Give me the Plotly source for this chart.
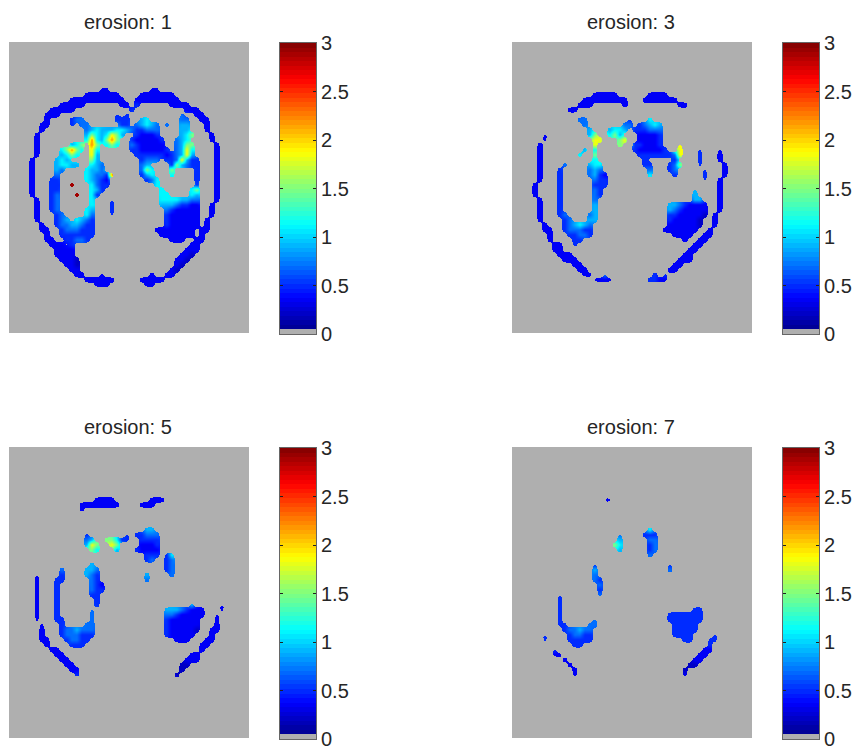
import numpy as np
import plotly.graph_objects as go

TITLES = ["erosion: 1", "erosion: 3", "erosion: 5", "erosion: 7"]
TICK_VALUES = [0, 0.5, 1, 1.5, 2, 2.5, 3]
TICK_LABELS = ["0", "0.5", "1", "1.5", "2", "2.5", "3"]
# cell codes: digit = full cell, letter = narrow cell of the same level
LEVELS = {"1": 0.2, "2": 0.35, "3": 0.5, "4": 0.7, "5": 0.9, "6": 1.1, "7": 1.5, "8": 1.85, "9": 2.2,
          "a": 0.2, "b": 0.35, "c": 0.5, "d": 0.7, "e": 0.9, "f": 1.1, "g": 1.5, "h": 1.85, "i": 2.2, "z": 2.9}
B = "........"
ROWS_1 = [B]*9 + [
"........ ........ ..bb.... ....bb..",
"........ .......2 222222.. ..222222 2.......",
"........ ....2222 2222222. .2222222 22......",
"........ ..22222. ......22 .3...... 2222....",
"........ 22222... ........ 3....... ...222..",
".......2 22...... .....c.c ........ ..d..22.",
".......2 ....344. .....333 ..56.... ..44..22",
"......22 ....c.44 ......33 .45654.4 ..55...2",
"......2. .......4 56555665 433444.. ..55...2",
".....2.. .......5 7656875. .32223.. ..567... 2.......",
".....2.. .......6 965797.. 3222223. .456.... 2.......",
".....2.. ....567. 97.676.. 4322222. .4577... .2......",
".....2.. ..6797f. 86...... 33222223 .4586... .2......",
".....2.. ..5676.. 85...... .3333332 34585... .2......",
"....2... .565.... 75...... ..3444.3 348533.. .2......",
"....2... .56655.. 654..... ..45.... 375433.. .2......",
"....2... .54....6 554..... ..476... 7....3.. .2......",
"....2... .4.....6 5443i... ..356... 6....3.. .2......",
"....2... 33.....6 5432.... ...346.. .....3.. .2......",
"....2... 33..z... 6433.... .....6.. .....c.. .2......",
"....2... 33...... 653..... ......6. ....67.. .2......",
"....2... 34...z.. 63...... ......66 ....65.. .2......",
".....2.. 34...... 6...c... ......66 665544.. .2......",
".....2.. 34...... 6...c... ......55 543322.. 2.......",
".....2.. 34.....6 5...c... .......4 322222.. 2.......",
".....2.. .34....6 4...c... .......3 222222.. 2.......",
".....2.. .345.654 3....... .......3 222222.2",
"......2. .3445543 3....... .......3 222222.2",
"......22 ..344433 3....... .....222 22222.22",
".......2 ..333333 3....... ......22 22222.2.",
".......2 2..33443 ........ ........ 222..22.",
"........ 222.3... ........ ........ ....22..",
"........ .2222... ........ ........ ...222..",
"........ .2222... ........ ........ ..221...",
"........ ..2221.. ........ ........ .221....",
"........ ...221.. ........ ........ .21.....",
"........ ....22.. ........ ........ 21......",
"........ .....22. ..b....c ....2..2 2.......",
"........ .......2 22222... c.22222.",
"........ ........ .bbb.... ...bb...",
]
ROWS_3 = [B]*10 + [
"........ ........ 22222... ...2222.",
"........ ......22 2222222. ..222222 2.......",
"........ .....222 ......2. .c...... .22.....",
"........ ...22... .......c ........ ...b....",
B,
"........ .....44. .......c ...6....",
"........ ......4. ......44 .34565.. ..d.....",
".......b .......5 ...5665. 333444..",
"......b. .......5 7..675.. .22223..",
"......b. ........ 88...78. .22223..",
".....2.. ........ h....7.. 332223.. .h..b...",
".....2.. ......5. f....... 3222223. .8...c.. .b......",
".....2.. ..e..6.. g....... .3333333 48...c.. .2......",
".....2.. ........ 6....... ..3...., 3....c.. .2......",
".....2.. ..4....5 66...... ..33...3 47...c.. ..2.....",
".....2.. .3.....4 54...... ...4...3 4.....c. ..2.....",
".....2.. .3.....4 532..... ...6.... 3.....c. ..2.....",
".....2.. .3...... 433..... ........ ......c. .2......",
"....2... .3...... 333..... ........ ........ .2......",
"....2... .3...... 43...... ........ ....e... .2......",
"....2... .3...... 43...... ........ ....5... .2......",
".....2.. .3...... 4....... ........ ....55.. .2......",
".....2.. .3...... 5....... .......5 5432222. .2......",
".....2.. .3...... 5....... .......5 4322222. .2......",
".....2.. .34....4 5....... .......3 3222221. 2.......",
".....2.. ..34...5 5....... .......3 222221.. 2.......",
"......2. ..345654 ........ .......2 222221.. 2.......",
"......22 ..344433 ........ ......22 22222..2",
".......2 ...33443 ........ ........ 2222..22",
".......2 ....33.. ........ ........ ..2..22.",
"........ 22..c... ........ ........ ....22..",
"........ 22...... ........ ........ ...22...",
"........ .222.... ........ ........ ..22....",
"........ ..222... ........ ........ .222....",
"........ ....22.. ........ ........ 22......",
"........ .....22. ........ .......2 2.......",
"........ ......bb ..d..... ....3.c.",
"........ ........ bbbb.... ...3cbb.",
]
ROWS_5 = [B]*10 + [
"........ ........ .2222... ....222.",
"........ ......22 222222.. ..222... c.......",
"........ ......b.",
"........ .....c..",
B, B,
"........ ......c. ........ ...55...",
"........ .......c .......c .33444..",
"........ .......4 5..776cc ..3333..",
"........ .......5 87..87.. ..2223..",
"........ ........ 76...5.. .32222..",
"........ ........ ........ ...333.c f.......",
"........ ........ ........ ...34..3 4....b..",
"........ ........ 5....... .......3 4.......",
"........ ..4....5 54...... .......3 4.......",
".....b.. ..3....5 43...... ...5.... 4.......",
".....b.. .33..... 43...... ...4....",
".....b.. .3...... 432.....",
".....b.. .3...... 433.....",
".....b.. .3...... 33......",
".....b.. .3...... .3......",
".....b.. .3...... .3...... ........ ....e... ..b.....",
".....b.. .3...... d....... .......5 5543222. ..b.....",
".....b.. .3...... d....... .......4 4322222. .b......",
".....b.. .33..... d....... .......3 222222.. .b......",
"......b. ..3....4 4....... .......3 222222.. .2......",
"......2. ..344544 4....... .......3 222221.. 22......",
"......2. ..344433 3....... .......3 22222... 2.......",
"......22 ...34433 ........ ........ .222...2 2.......",
".......2 ....333. ........ ........ ......22",
"........ 22...... ........ ........ ......2.",
"........ .22..... ........ ........ ....22..",
"........ ..22.... ........ ........ ...222..",
"........ ...22... ........ ........ ..11....",
"........ ....22.. ........ ........ ..1.....",
"........ .....c.. ........ ........ .1......",
"........ ......b. ........ ........ c.......",
"........ ........ ...b.... ....c...",
]
ROWS_7 = [B]*10 + [
"........ ........ ..bb....",
B, B, B, B, B,
"........ ........ ........ ...6....",
"........ ........ .....d.. ..333...",
"........ .......c .....5.. ...44...",
"........ ........ .g..76.. ...34...",
"........ ........ .....5.. ...34...",
"........ ........ ........ ...4....",
B,
"........ ........ c....... .......c",
"........ ........ 5....... .......4",
"........ ..c..... 4.......",
"........ .c...... 43......",
"........ ........ .4......",
"........ ........ .3......",
"........ .c...... .d......",
"........ .c......",
"........ .c......",
"........ .c...... ........ ........ ....33..",
"........ .c...... ........ .......3 333333..",
"........ .c...... d....... .......3 333333..",
"........ .cc....d 4....... ........ 33333...",
"........ ..344544 ........ ........ 33333...",
"......c. ...34433 ........ ........ 3333.... c.......",
"......c. ...33333 ........ ........ ..33...c c.......",
".......c ....33.. ........ ........ .......c",
"........ c....... ........ ........ ......22",
"........ bb...... ........ ........ .....22.",
"........ ..2..... ........ ........ ....22..",
"........ ...2.... ........ ........ ...11...",
"........ ....2... ........ ........ ..1.....",
"........ ....b... ........ ........ ..b.....",
]
PANELS = [ROWS_1, ROWS_3, ROWS_5, ROWS_7]

W, H = 859, 751
GRAY = "rgb(175,175,175)"
JET = [[0, "rgb(0,0,128)"], [0.125, "rgb(0,0,255)"], [0.375, "rgb(0,255,255)"],
       [0.625, "rgb(255,255,0)"], [0.875, "rgb(255,0,0)"], [1, "rgb(128,0,0)"]]
BAR_BINS = 64
BAR_Z = [[(i + 0.5) * 3 / BAR_BINS] for i in range(BAR_BINS)]
BAR_SCALE = [[0, GRAY], [1 / BAR_BINS, GRAY], [1 / BAR_BINS, "rgb(0,0,143)"],
             [0.125, "rgb(0,0,255)"], [0.375, "rgb(0,255,255)"], [0.625, "rgb(255,255,0)"],
             [0.875, "rgb(255,0,0)"], [1, "rgb(128,0,0)"]]
EDGE = 0.45
MASK_SCALE = [[0, GRAY], [EDGE, GRAY], [EDGE, "rgba(175,175,175,0)"], [1, "rgba(175,175,175,0)"]]
NCOL, NROW = 48, 58
THIN = 0.72
UP = 4
SIGMA = 0.45


def soften(m):
    n = 3 * UP
    k = np.exp(-0.5 * (np.arange(-n, n + 1) / (SIGMA * UP)) ** 2)
    k /= k.sum()
    fine = np.kron(m, np.ones((UP, UP)))
    fine = np.apply_along_axis(lambda a: np.convolve(a, k, mode="same"), 0, fine)
    fine = np.apply_along_axis(lambda a: np.convolve(a, k, mode="same"), 1, fine)
    return fine


def decode(rows):
    z = np.full((NROW, NCOL), np.nan)
    m = np.zeros((NROW, NCOL))
    for r, row in enumerate(rows[:NROW]):
        s = row.replace(" ", "").ljust(NCOL, ".")[:NCOL]
        for c, ch in enumerate(s):
            if ch in LEVELS:
                z[r, c] = LEVELS[ch]
                m[r, c] = 1.0 if (ch.isdigit() or ch == "z") else THIN
    # colours under the mask continue outward from the nearest filled cell
    for _ in range(NROW):
        if not np.isnan(z).any():
            break
        src = z.copy()
        for r, c in zip(*np.where(np.isnan(src))):
            near = src[max(r - 1, 0):r + 2, max(c - 1, 0):c + 2]
            if (~np.isnan(near)).any():
                z[r, c] = np.nanmean(near)
    return np.nan_to_num(z), soften(m)


def ref(n):
    return ("x" if n == 1 else f"x{n}"), ("y" if n == 1 else f"y{n}")


def key(n):
    return ("xaxis" if n == 1 else f"xaxis{n}"), ("yaxis" if n == 1 else f"yaxis{n}")


BOXES = [(9, 42), (512, 42), (9, 447), (512, 447)]
PW, PH, BX, BW = 240, 291, 271, 36

fig = go.Figure()
layout = dict(width=W, height=H, margin=dict(l=0, r=0, t=0, b=0, autoexpand=False), paper_bgcolor="white",
              plot_bgcolor=GRAY, showlegend=False, annotations=[])
for i, (rows, (x0, y0), title) in enumerate(zip(PANELS, BOXES, TITLES)):
    z, m = decode(rows)
    ax = 2 * i + 1
    xa, ya = ref(ax)
    fig.add_trace(go.Heatmap(z=z.tolist(), xaxis=xa, yaxis=ya, zmin=0, zmax=3, colorscale=JET,
                             zsmooth="best", showscale=False, hoverinfo="skip"))
    fig.add_trace(go.Heatmap(z=m.round(3).tolist(), x0=-0.5 + 0.5 / UP, dx=1 / UP, y0=-0.5 + 0.5 / UP, dy=1 / UP,
                             xaxis=xa, yaxis=ya, zmin=0, zmax=1, colorscale=MASK_SCALE,
                             zsmooth="best", showscale=False, hoverinfo="skip"))
    kx, ky = key(ax)
    layout[kx] = dict(domain=[x0 / W, (x0 + PW) / W], range=[-0.5, NCOL - 0.5], anchor=ya,
                      showticklabels=False, ticks="", showgrid=False, zeroline=False)
    layout[ky] = dict(domain=[1 - (y0 + PH) / H, 1 - y0 / H], range=[PH / 5 - 0.5, -0.5], anchor=xa,
                      showticklabels=False, ticks="", showgrid=False, zeroline=False)
    layout["annotations"].append(dict(text=title, xref="paper", yref="paper", x=(x0 + PW / 2 - 1) / W, xanchor="center",
                                      y=1 - (y0 - 20) / H, yanchor="middle", showarrow=False,
                                      font=dict(family="Liberation Sans", size=20, color="#262626")))
    bx = x0 + BX
    bxa, bya = ref(ax + 1)
    fig.add_trace(go.Heatmap(z=BAR_Z, x0=0, dx=1, y0=3 / BAR_BINS / 2, dy=3 / BAR_BINS, xaxis=bxa, yaxis=bya,
                             zmin=0, zmax=3, colorscale=BAR_SCALE, showscale=False, hoverinfo="skip"))
    kx, ky = key(ax + 1)
    layout[kx] = dict(domain=[bx / W, (bx + BW) / W], range=[-0.5, 0.5], anchor=bya,
                      showticklabels=False, ticks="", showgrid=False, zeroline=False,
                      showline=True, linecolor="#666666", linewidth=1, mirror=True)
    layout[ky] = dict(domain=[1 - (y0 + PH + 1) / H, 1 - (y0 + 1) / H], range=[0, 3], anchor=bxa,
                      side="right", tickvals=TICK_VALUES, ticktext=TICK_LABELS, ticks="inside",
                      ticklen=3, tickcolor="#202020", showgrid=False, zeroline=False,
                      showline=True, linecolor="#666666", linewidth=1, mirror="ticks",
                      tickfont=dict(family="Liberation Sans", size=20, color="#262626"))
fig.update_layout(**layout)
fig.write_html("out.html", config={"displayModeBar": False},
               post_script="document.body.style.margin='0';document.body.style.overflow='hidden';")
